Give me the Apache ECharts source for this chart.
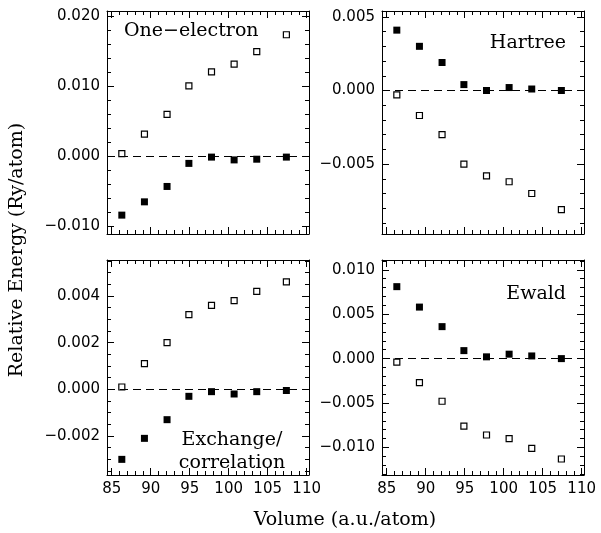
<!DOCTYPE html>
<html><head><meta charset="utf-8">
<script src="https://cdn.jsdelivr.net/npm/echarts@6/dist/echarts.min.js"></script>
<style>html,body{margin:0;padding:0;background:#fff}#c{width:601px;height:533px}</style>
</head><body><div id="c"></div>
<script>
// ---- data ----
const volume = [86.3, 89.2, 92.1, 94.9, 97.8, 100.7, 103.6, 107.4];

const oneElectronOpen   = [0.0004, 0.0032, 0.0060, 0.0101, 0.0121, 0.0132, 0.0150, 0.0174];
const oneElectronFilled = [-0.0084, -0.0065, -0.0043, -0.0010, -0.0001, -0.0005, -0.0004, -0.0001];

const hartreeFilled = [0.0041, 0.0030, 0.0019, 0.0004, 0.0000, 0.0002, 0.0001, 0.0000];
const hartreeOpen   = [-0.0003, -0.0017, -0.0030, -0.0050, -0.0058, -0.0062, -0.0070, -0.0081];

const xcOpen   = [0.0001, 0.0011, 0.0020, 0.0032, 0.0036, 0.0038, 0.0042, 0.0046];
const xcFilled = [-0.0030, -0.0021, -0.0013, -0.0003, -0.0001, -0.0002, -0.0001, -0.00005];

const ewaldFilled = [0.0081, 0.0058, 0.0036, 0.0009, 0.0002, 0.0005, 0.0003, 0.0000];
const ewaldOpen   = [-0.0004, -0.0027, -0.0048, -0.0076, -0.0086, -0.0090, -0.0101, -0.0113];

// ---- tick labels ----
const xTickLabels = [85, 90, 95, 100, 105, 110];
const yTicksOneElectron = [-0.010, 0.000, 0.010, 0.020];
const yTicksHartree = [-0.005, 0.000, 0.005];
const yTicksXC = [-0.002, 0.000, 0.002, 0.004];
const yTicksEwald = [-0.010, -0.005, 0.000, 0.005, 0.010];

const panelTitles = ['One\u2212electron', 'Hartree', 'Exchange/\ncorrelation', 'Ewald'];
const xAxisTitle = 'Volume (a.u./atom)';
const yAxisTitle = 'Relative Energy (Ry/atom)';

// ---- layout / styling ----
const X_MIN = 84.4, X_MAX = 110.3, X_MINOR = 1;
const panels = [
  {left:107, top:11,  width:202, height:223, yMin:-0.0111, yMax:0.0208, major:yTicksOneElectron, minor:0.002,  showX:false, open:oneElectronOpen, filled:oneElectronFilled},
  {left:382, top:11,  width:202, height:223, yMin:-0.00975,yMax:0.0054, major:yTicksHartree,     minor:0.001,  showX:false, open:hartreeOpen,     filled:hartreeFilled},
  {left:107, top:260, width:202, height:215, yMin:-0.00367,yMax:0.00554,major:yTicksXC,          minor:0.0005, showX:true,  open:xcOpen,          filled:xcFilled},
  {left:382, top:260, width:202, height:215, yMin:-0.0131, yMax:0.0111, major:yTicksEwald,       minor:0.001,  showX:true,  open:ewaldOpen,       filled:ewaldFilled}
];

function multiples(min, max, step) {
  const out = [];
  const s = Math.ceil(min / step - 1e-9), e = Math.floor(max / step + 1e-9);
  for (let k = s; k <= e; k++) out.push(+(k * step).toFixed(8));
  return out;
}
function fmtY(v) {
  if (Math.abs(v) < 1e-12) return '0.000';
  return (v < 0 ? '\u2212' : '') + Math.abs(v).toFixed(3);
}

const BLACK = '#000';
const tickFont = {fontFamily:'DejaVu Sans', fontSize:15, color:BLACK};
const grids = [], xAxes = [], yAxes = [], series = [];
const xMinor = multiples(X_MIN, X_MAX, X_MINOR);

panels.forEach((p, i) => {
  grids.push({left:p.left, top:p.top, width:p.width, height:p.height, containLabel:false});
  const yMinor = multiples(p.yMin, p.yMax, p.minor);
  ['bottom', 'top'].forEach(pos => {
    xAxes.push({gridIndex:i, type:'value', min:X_MIN, max:X_MAX, position:pos,
      axisLine:{show:true, onZero:false, lineStyle:{color:BLACK, width:1}},
      axisTick:{show:true, inside:true, length:7, customValues:xTickLabels, lineStyle:{color:BLACK, width:1}},
      axisLabel:{show:p.showX && pos === 'bottom', customValues:xTickLabels, margin:7, ...tickFont},
      splitLine:{show:false}});
    xAxes.push({gridIndex:i, type:'value', min:X_MIN, max:X_MAX, position:pos,
      axisLine:{show:false, onZero:false},
      axisTick:{show:true, inside:true, length:4, customValues:xMinor, lineStyle:{color:BLACK, width:1}},
      axisLabel:{show:false}, splitLine:{show:false}});
  });
  ['left', 'right'].forEach(pos => {
    yAxes.push({gridIndex:i, type:'value', min:p.yMin, max:p.yMax, position:pos,
      axisLine:{show:true, onZero:false, lineStyle:{color:BLACK, width:1}},
      axisTick:{show:true, inside:true, length:7, customValues:p.major, lineStyle:{color:BLACK, width:1}},
      axisLabel:{show:pos === 'left', customValues:p.major, margin:7, formatter:fmtY, ...tickFont},
      splitLine:{show:false}});
    yAxes.push({gridIndex:i, type:'value', min:p.yMin, max:p.yMax, position:pos,
      axisLine:{show:false, onZero:false},
      axisTick:{show:true, inside:true, length:4, customValues:yMinor, lineStyle:{color:BLACK, width:1}},
      axisLabel:{show:false}, splitLine:{show:false}});
  });
  const xi = i * 4, yi = i * 4;
  series.push({type:'scatter', xAxisIndex:xi, yAxisIndex:yi, symbol:'rect', symbolSize:6,
    itemStyle:{color:'#fff', borderColor:BLACK, borderWidth:1.2, opacity:1},
    data: volume.map((v, k) => [v, p.open[k]]),
    markLine:{silent:true, symbol:'none', label:{show:false},
      lineStyle:{color:BLACK, width:1, type:[8, 5], opacity:1}, data:[{yAxis:0}]},
    z:3});
  series.push({type:'scatter', xAxisIndex:xi, yAxisIndex:yi, symbol:'rect', symbolSize:7,
    itemStyle:{color:BLACK, opacity:1},
    data: volume.map((v, k) => [v, p.filled[k]]), z:4});
});

const titleFont = '19px "DejaVu Serif"';
const graphics = [
  {type:'text', left:124, top:22, style:{text:panelTitles[0], font:titleFont, fill:BLACK}},
  {type:'text', right:601-566, top:34, style:{text:panelTitles[1], font:titleFont, fill:BLACK}},
  {type:'text', x:232, y:429, style:{text:panelTitles[2], font:titleFont, fill:BLACK, align:'center', lineHeight:23}},
  {type:'text', right:601-566, top:285, style:{text:panelTitles[3], font:titleFont, fill:BLACK}},
  {type:'text', x:345, y:520, style:{text:xAxisTitle, font:titleFont, fill:BLACK, align:'center', verticalAlign:'middle'}},
  {type:'text', x:17, y:250, rotation:Math.PI/2, style:{text:yAxisTitle, font:titleFont, fill:BLACK, align:'center', verticalAlign:'middle'}}
];

const chart = echarts.init(document.getElementById('c'), null, {renderer:'canvas'});
chart.setOption({
  backgroundColor:'#fff', animation:false,
  grid:grids, xAxis:xAxes, yAxis:yAxes, series:series, graphic:graphics
});
</script></body></html>
